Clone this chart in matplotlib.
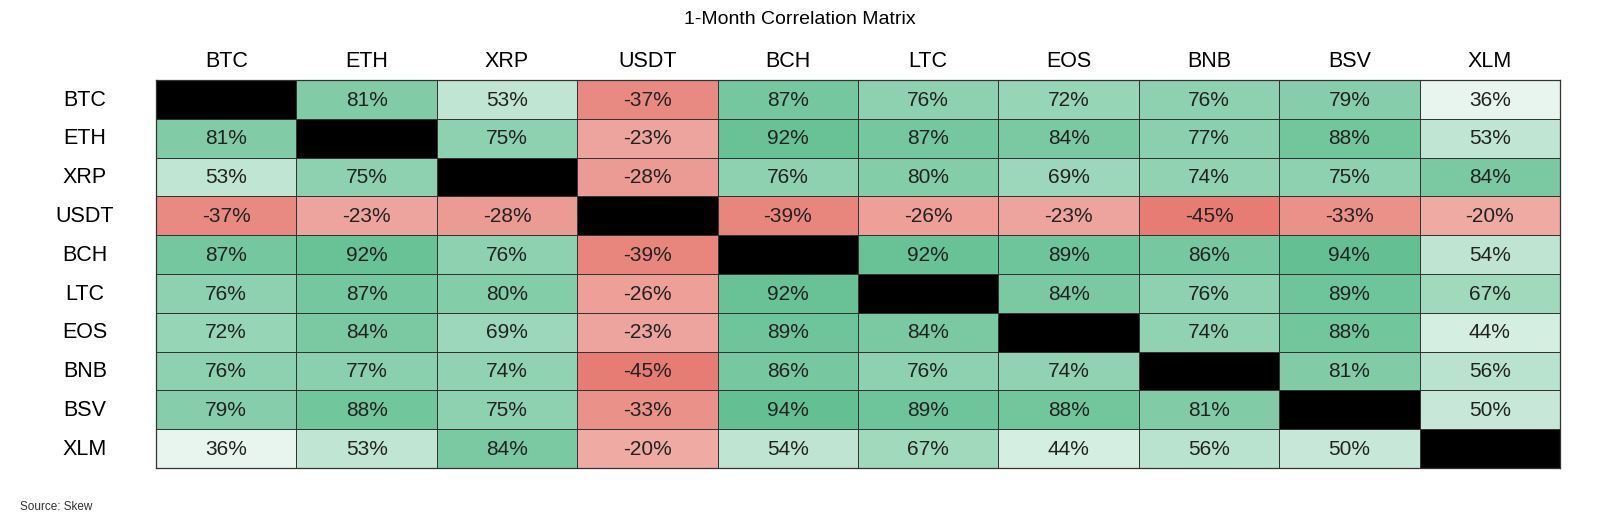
import numpy as np
import matplotlib
matplotlib.use("Agg")
import matplotlib.pyplot as plt
from matplotlib.colors import LinearSegmentedColormap, TwoSlopeNorm

plt.rcParams['font.family'] = ['Liberation Sans', 'DejaVu Sans']

assets = ["BTC", "ETH", "XRP", "USDT", "BCH", "LTC", "EOS", "BNB", "BSV", "XLM"]
btc = [100, 81, 53, -37, 87, 76, 72, 76, 79, 36]
eth = [81, 100, 75, -23, 92, 87, 84, 77, 88, 53]
xrp = [53, 75, 100, -28, 76, 80, 69, 74, 75, 84]
usdt = [-37, -23, -28, 100, -39, -26, -23, -45, -33, -20]
bch = [87, 92, 76, -39, 100, 92, 89, 86, 94, 54]
ltc = [76, 87, 80, -26, 92, 100, 84, 76, 89, 67]
eos = [72, 84, 69, -23, 89, 84, 100, 74, 88, 44]
bnb = [76, 77, 74, -45, 86, 76, 74, 100, 81, 56]
bsv = [79, 88, 75, -33, 94, 89, 88, 81, 100, 50]
xlm = [36, 53, 84, -20, 54, 67, 44, 56, 50, 100]

M = np.array([btc, eth, xrp, usdt, bch, ltc, eos, bnb, bsv, xlm], dtype=float)
n = len(assets)
mask = np.eye(n, dtype=bool)
Mm = np.ma.masked_array(M, mask=mask)

cmap = LinearSegmentedColormap.from_list("rwg", ["#E67C73", "#FFFFFF", "#57BB8A"])
cmap.set_bad("black")
norm = TwoSlopeNorm(vmin=M.min(), vcenter=(M.min() + M.max()) / 2 - 2, vmax=M.max())

fig = plt.figure(figsize=(16, 5.23), dpi=100)
ax = fig.add_axes([156/1600, 1 - 468/523, (1560-156)/1600, (468-80)/523])
ax.pcolormesh(np.arange(n+1), np.arange(n+1), Mm, cmap=cmap, norm=norm,
              edgecolor="#333333", linewidth=0.6)
ax.set_xlim(0, n)
ax.set_ylim(n, 0)
ax.set_xticks([])
ax.set_yticks([])
for s in ax.spines.values():
    s.set_color("#333333")
    s.set_linewidth(0.9)

for i in range(n):
    for j in range(n):
        if i != j:
            ax.text(j + 0.5, i + 0.52, f"{int(M[i, j])}%", ha="center", va="center",
                    fontsize=15, color="#222222")

for k, a in enumerate(assets):
    ax.text(k + 0.5, -0.47, a, ha="center", va="center", fontsize=15.5, color="black")
    fig.text(85/1600, 1 - (100 + k*38.8)/523, a, ha="center", va="center", fontsize=15.5, color="black")

fig.text(0.5, 1 - 20/523, "1-Month Correlation Matrix", ha="center", va="center", fontsize=14)
fig.text(20/1600, 1 - 507/523, "Source: Skew", ha="left", va="center", fontsize=8.5, color="#333333")

fig.savefig("out.png", dpi=100)
